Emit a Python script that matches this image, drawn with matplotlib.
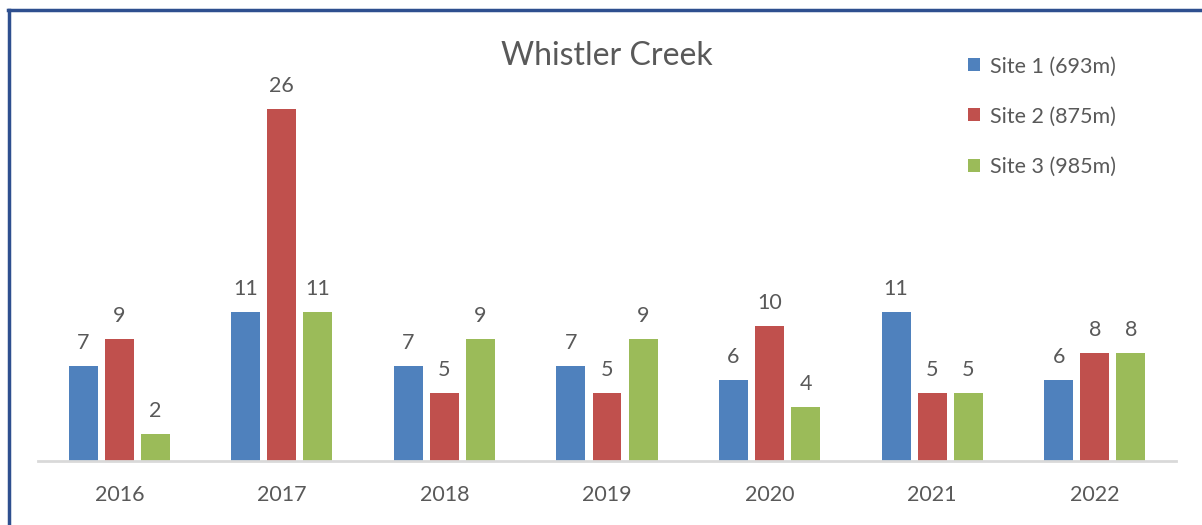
import numpy as np
import matplotlib.pyplot as plt
from matplotlib.lines import Line2D

# data
years = ['2016', '2017', '2018', '2019', '2020', '2021', '2022']
site1 = [7, 11, 7, 7, 6, 11, 6]
site2 = [9, 26, 5, 5, 10, 5, 8]
site3 = [2, 11, 9, 9, 4, 5, 8]
labels = ['Site 1 (693m)', 'Site 2 (875m)', 'Site 3 (985m)']
colors = ['#4F81BD', '#C0504D', '#9BBB59']

plt.rcParams['font.family'] = ['Lato', 'DejaVu Sans']
txt = '#595959'

fig = plt.figure(figsize=(12.02, 5.25), dpi=100)
ax = fig.add_axes([38 / 1202, 64 / 525, 1138 / 1202, 406 / 525])

x = np.arange(len(years))
w = 0.178
step = 0.222
handles = []
for i, (vals, c, lab) in enumerate(zip([site1, site2, site3], colors, labels)):
    bars = ax.bar(x + (i - 1) * step, vals, width=w, color=c, label=lab)
    handles.append(bars)
    for xi, v in zip(x + (i - 1) * step, vals):
        ax.text(xi, v + 0.95, str(v), ha='center', va='bottom', fontsize=15.5, color=txt)

ax.set_xlim(-0.5, len(years) - 0.5)
ax.set_ylim(0, 30)
ax.set_xticks(x)
ax.set_xticklabels(years, fontsize=15.5, color=txt)
ax.tick_params(axis='x', length=0, pad=17)
ax.set_yticks([])
for s in ['top', 'right', 'left']:
    ax.spines[s].set_visible(False)
ax.spines['bottom'].set_color('#D9D9D9')
ax.spines['bottom'].set_linewidth(2)

fig.text(607 / 1202, 1 - 56 / 525, 'Whistler Creek', ha='center', va='center',
         fontsize=23, color=txt)

fig.legend(handles=handles, loc='upper left', bbox_to_anchor=(949 / 1202, 1 - 37 / 525),
           frameon=False, fontsize=15.5, labelspacing=1.4, handlelength=0.55,
           handleheight=0.55, handletextpad=0.45, labelcolor=txt)

# window border (left and top only)
bc = '#2E4F8F'
fig.add_artist(Line2D([8.5 / 1202, 8.5 / 1202], [0, 1 - 9.5 / 525], color=bc, lw=2.5,
                      transform=fig.transFigure))
fig.add_artist(Line2D([7.5 / 1202, 1], [1 - 9.5 / 525, 1 - 9.5 / 525], color=bc, lw=2.5,
                      transform=fig.transFigure))

fig.savefig('out.png', dpi=100)
